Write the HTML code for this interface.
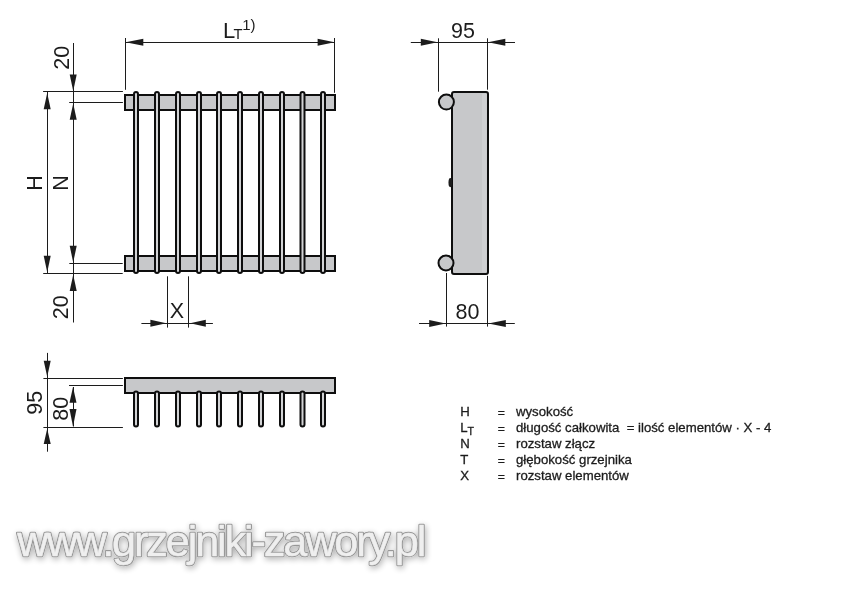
<!DOCTYPE html>
<html><head><meta charset="utf-8"><style>
html,body{margin:0;padding:0;background:#fff;}
body{width:850px;height:600px;overflow:hidden;position:relative;}
svg{position:absolute;left:0;top:0;will-change:transform;}
</style></head><body>
<svg width="850" height="600" viewBox="0 0 850 600">
<defs><filter id="sh" x="-10%" y="-30%" width="120%" height="160%"><feGaussianBlur in="SourceAlpha" stdDeviation="3"/><feOffset dx="0.5" dy="1.5"/><feComponentTransfer><feFuncA type="linear" slope="0.32"/></feComponentTransfer><feMerge><feMergeNode/><feMergeNode in="SourceGraphic"/></feMerge></filter></defs>
<rect width="850" height="600" fill="#fff"/>
<rect x="125" y="95" width="210" height="15" fill="#c7c8ca" stroke="#0e0e0e" stroke-width="2"/>
<rect x="125" y="256" width="210" height="15" fill="#c7c8ca" stroke="#0e0e0e" stroke-width="2"/>
<rect x="134" y="92" width="4" height="181" rx="2" fill="#d2d3d5" stroke="#0e0e0e" stroke-width="2"/>
<rect x="155" y="92" width="4" height="181" rx="2" fill="#d2d3d5" stroke="#0e0e0e" stroke-width="2"/>
<rect x="176" y="92" width="4" height="181" rx="2" fill="#d2d3d5" stroke="#0e0e0e" stroke-width="2"/>
<rect x="197" y="92" width="4" height="181" rx="2" fill="#d2d3d5" stroke="#0e0e0e" stroke-width="2"/>
<rect x="217" y="92" width="4" height="181" rx="2" fill="#d2d3d5" stroke="#0e0e0e" stroke-width="2"/>
<rect x="238" y="92" width="4" height="181" rx="2" fill="#d2d3d5" stroke="#0e0e0e" stroke-width="2"/>
<rect x="259" y="92" width="4" height="181" rx="2" fill="#d2d3d5" stroke="#0e0e0e" stroke-width="2"/>
<rect x="280" y="92" width="4" height="181" rx="2" fill="#d2d3d5" stroke="#0e0e0e" stroke-width="2"/>
<rect x="300.5" y="92" width="4" height="181" rx="2" fill="#d2d3d5" stroke="#0e0e0e" stroke-width="2"/>
<rect x="321" y="92" width="4" height="181" rx="2" fill="#d2d3d5" stroke="#0e0e0e" stroke-width="2"/>
<line x1="125.5" y1="38" x2="125.5" y2="89.8" stroke="#1c1c1c" stroke-width="1.0"/>
<line x1="334.5" y1="38" x2="334.5" y2="92.8" stroke="#1c1c1c" stroke-width="1.0"/>
<line x1="125.4" y1="42.5" x2="334.8" y2="42.5" stroke="#1c1c1c" stroke-width="1.0"/>
<polygon points="125.6,42.3 143.30,45.80 143.30,38.80" fill="#1c1c1c"/>
<polygon points="334.6,42.3 317.60,38.80 317.60,45.80" fill="#1c1c1c"/>
<line x1="43.1" y1="91.5" x2="122.9" y2="91.5" stroke="#1c1c1c" stroke-width="1.0"/>
<line x1="69.2" y1="102.5" x2="122.9" y2="102.5" stroke="#1c1c1c" stroke-width="1.0"/>
<line x1="69.3" y1="263.5" x2="122.7" y2="263.5" stroke="#1c1c1c" stroke-width="1.0"/>
<line x1="43.2" y1="273.5" x2="122.7" y2="273.5" stroke="#1c1c1c" stroke-width="1.0"/>
<line x1="47.5" y1="92" x2="47.5" y2="273" stroke="#1c1c1c" stroke-width="1.0"/>
<polygon points="47.2,92.9 43.70,109.20 50.70,109.20" fill="#1c1c1c"/>
<polygon points="47.2,272.3 50.70,255.80 43.70,255.80" fill="#1c1c1c"/>
<line x1="73.5" y1="43" x2="73.5" y2="322.5" stroke="#1c1c1c" stroke-width="1.0"/>
<polygon points="73.2,91 76.70,74.40 69.70,74.40" fill="#1c1c1c"/>
<polygon points="73.2,103.4 69.70,119.70 76.70,119.70" fill="#1c1c1c"/>
<polygon points="73.2,262.5 76.70,245.70 69.70,245.70" fill="#1c1c1c"/>
<polygon points="73.2,274.8 69.70,291.00 76.70,291.00" fill="#1c1c1c"/>
<line x1="167.5" y1="276.3" x2="167.5" y2="327.6" stroke="#1c1c1c" stroke-width="1.0"/>
<line x1="188.5" y1="276.3" x2="188.5" y2="327.6" stroke="#1c1c1c" stroke-width="1.0"/>
<line x1="141.4" y1="323.5" x2="212.9" y2="323.5" stroke="#1c1c1c" stroke-width="1.0"/>
<polygon points="166.3,323.3 150.40,319.80 150.40,326.80" fill="#1c1c1c"/>
<polygon points="190.1,323.3 205.80,326.80 205.80,319.80" fill="#1c1c1c"/>
<rect x="452" y="92" width="36" height="182" rx="2" fill="#c7c8ca" stroke="#0e0e0e" stroke-width="2"/>
<rect x="482" y="94" width="4.5" height="178" fill="#cfd0d2"/>
<circle cx="446.4" cy="102.1" r="7.5" fill="#c7c8ca" stroke="#0e0e0e" stroke-width="2"/>
<circle cx="446" cy="263" r="7.5" fill="#c7c8ca" stroke="#0e0e0e" stroke-width="2"/>
<ellipse cx="450.3" cy="182.6" rx="1.8" ry="4.6" fill="#1c1c1c"/>
<line x1="438.5" y1="38.3" x2="438.5" y2="91.7" stroke="#1c1c1c" stroke-width="1.0"/>
<line x1="487.5" y1="38.3" x2="487.5" y2="89.7" stroke="#1c1c1c" stroke-width="1.0"/>
<line x1="410.8" y1="42.5" x2="515" y2="42.5" stroke="#1c1c1c" stroke-width="1.0"/>
<polygon points="437.5,42.2 420.80,38.70 420.80,45.70" fill="#1c1c1c"/>
<polygon points="488,42.2 505.30,45.70 505.30,38.70" fill="#1c1c1c"/>
<line x1="446.5" y1="273" x2="446.5" y2="326.6" stroke="#1c1c1c" stroke-width="1.0"/>
<line x1="487.5" y1="275.8" x2="487.5" y2="326.6" stroke="#1c1c1c" stroke-width="1.0"/>
<line x1="419" y1="323.5" x2="514.8" y2="323.5" stroke="#1c1c1c" stroke-width="1.0"/>
<polygon points="445.6,323.4 429.20,319.90 429.20,326.90" fill="#1c1c1c"/>
<polygon points="488.3,323.4 505.80,326.90 505.80,319.90" fill="#1c1c1c"/>
<rect x="125" y="378" width="210" height="15" fill="#c7c8ca" stroke="#0e0e0e" stroke-width="2"/>
<rect x="134" y="391.5" width="4" height="35" rx="2" fill="#d2d3d5" stroke="#0e0e0e" stroke-width="2"/>
<rect x="155" y="391.5" width="4" height="35" rx="2" fill="#d2d3d5" stroke="#0e0e0e" stroke-width="2"/>
<rect x="176" y="391.5" width="4" height="35" rx="2" fill="#d2d3d5" stroke="#0e0e0e" stroke-width="2"/>
<rect x="197" y="391.5" width="4" height="35" rx="2" fill="#d2d3d5" stroke="#0e0e0e" stroke-width="2"/>
<rect x="217" y="391.5" width="4" height="35" rx="2" fill="#d2d3d5" stroke="#0e0e0e" stroke-width="2"/>
<rect x="238" y="391.5" width="4" height="35" rx="2" fill="#d2d3d5" stroke="#0e0e0e" stroke-width="2"/>
<rect x="259" y="391.5" width="4" height="35" rx="2" fill="#d2d3d5" stroke="#0e0e0e" stroke-width="2"/>
<rect x="280" y="391.5" width="4" height="35" rx="2" fill="#d2d3d5" stroke="#0e0e0e" stroke-width="2"/>
<rect x="300.5" y="391.5" width="4" height="35" rx="2" fill="#d2d3d5" stroke="#0e0e0e" stroke-width="2"/>
<rect x="321" y="391.5" width="4" height="35" rx="2" fill="#d2d3d5" stroke="#0e0e0e" stroke-width="2"/>
<line x1="47.5" y1="352.9" x2="47.5" y2="451.7" stroke="#1c1c1c" stroke-width="1.0"/>
<polygon points="47.2,376.7 50.70,360.80 43.70,360.80" fill="#1c1c1c"/>
<polygon points="47.2,428.8 43.70,443.90 50.70,443.90" fill="#1c1c1c"/>
<line x1="43.4" y1="378.5" x2="122.9" y2="378.5" stroke="#1c1c1c" stroke-width="1.0"/>
<line x1="69" y1="385.5" x2="122.9" y2="385.5" stroke="#1c1c1c" stroke-width="1.0"/>
<line x1="43.4" y1="427.5" x2="122.9" y2="427.5" stroke="#1c1c1c" stroke-width="1.0"/>
<line x1="73.5" y1="387" x2="73.5" y2="426.5" stroke="#1c1c1c" stroke-width="1.0"/>
<polygon points="73.0,387 69.50,402.80 76.50,402.80" fill="#1c1c1c"/>
<polygon points="73.0,426.5 76.50,409.10 69.50,409.10" fill="#1c1c1c"/>
<text x="223" y="37.8" font-size="22" font-family="Liberation Sans, sans-serif" fill="#1c1c1c" >L</text>
<text x="233.5" y="38.7" font-size="14.8" font-family="Liberation Sans, sans-serif" fill="#1c1c1c" >T</text>
<text x="242.2" y="29.8" font-size="15" font-family="Liberation Sans, sans-serif" fill="#1c1c1c" >1)</text>
<text x="451" y="37.5" font-size="21.5" font-family="Liberation Sans, sans-serif" fill="#1c1c1c" >95</text>
<text x="455.5" y="318.8" font-size="21.5" font-family="Liberation Sans, sans-serif" fill="#1c1c1c" >80</text>
<text x="169.8" y="318.2" font-size="21.5" font-family="Liberation Sans, sans-serif" fill="#1c1c1c" >X</text>
<text x="0" y="0" font-size="21.5" font-family="Liberation Sans, sans-serif" fill="#1c1c1c" text-anchor="middle" transform="translate(42.2,183) rotate(-90)">H</text>
<text x="0" y="0" font-size="21.5" font-family="Liberation Sans, sans-serif" fill="#1c1c1c" text-anchor="middle" transform="translate(68.2,183) rotate(-90)">N</text>
<text x="0" y="0" font-size="21.5" font-family="Liberation Sans, sans-serif" fill="#1c1c1c" text-anchor="middle" transform="translate(68.6,57.7) rotate(-90)">20</text>
<text x="0" y="0" font-size="21.5" font-family="Liberation Sans, sans-serif" fill="#1c1c1c" text-anchor="middle" transform="translate(68.4,307.3) rotate(-90)">20</text>
<text x="0" y="0" font-size="21.5" font-family="Liberation Sans, sans-serif" fill="#1c1c1c" text-anchor="middle" transform="translate(42.3,402.8) rotate(-90)">95</text>
<text x="0" y="0" font-size="21.5" font-family="Liberation Sans, sans-serif" fill="#1c1c1c" text-anchor="middle" transform="translate(68.4,408.7) rotate(-90)">80</text>
<text x="460.3" y="415.75" font-size="13.2" font-family="Liberation Sans, sans-serif" fill="#1c1c1c" xml:space="preserve" stroke="#1c1c1c" stroke-width="0.3">H</text>
<text x="497.6" y="416.75" font-size="13.2" font-family="Liberation Sans, sans-serif" fill="#1c1c1c" >=</text>
<text x="516.0" y="415.75" font-size="13.2" font-family="Liberation Sans, sans-serif" fill="#1c1c1c" xml:space="preserve" stroke="#1c1c1c" stroke-width="0.3">wysokość</text>
<text x="460.3" y="431.8" font-size="13.2" font-family="Liberation Sans, sans-serif" fill="#1c1c1c" xml:space="preserve" stroke="#1c1c1c" stroke-width="0.3">L</text>
<text x="497.6" y="432.8" font-size="13.2" font-family="Liberation Sans, sans-serif" fill="#1c1c1c" >=</text>
<text x="516.0" y="431.8" font-size="13.2" font-family="Liberation Sans, sans-serif" fill="#1c1c1c" xml:space="preserve" stroke="#1c1c1c" stroke-width="0.3">długość całkowita  = ilość elementów · X - 4</text>
<text x="460.3" y="447.8" font-size="13.2" font-family="Liberation Sans, sans-serif" fill="#1c1c1c" xml:space="preserve" stroke="#1c1c1c" stroke-width="0.3">N</text>
<text x="497.6" y="448.8" font-size="13.2" font-family="Liberation Sans, sans-serif" fill="#1c1c1c" >=</text>
<text x="516.0" y="447.8" font-size="13.2" font-family="Liberation Sans, sans-serif" fill="#1c1c1c" xml:space="preserve" stroke="#1c1c1c" stroke-width="0.3">rozstaw złącz</text>
<text x="460.3" y="463.9" font-size="13.2" font-family="Liberation Sans, sans-serif" fill="#1c1c1c" xml:space="preserve" stroke="#1c1c1c" stroke-width="0.3">T</text>
<text x="497.6" y="464.9" font-size="13.2" font-family="Liberation Sans, sans-serif" fill="#1c1c1c" >=</text>
<text x="516.0" y="463.9" font-size="13.2" font-family="Liberation Sans, sans-serif" fill="#1c1c1c" xml:space="preserve" stroke="#1c1c1c" stroke-width="0.3">głębokość grzejnika</text>
<text x="460.3" y="480.1" font-size="13.2" font-family="Liberation Sans, sans-serif" fill="#1c1c1c" xml:space="preserve" stroke="#1c1c1c" stroke-width="0.3">X</text>
<text x="497.6" y="481.1" font-size="13.2" font-family="Liberation Sans, sans-serif" fill="#1c1c1c" >=</text>
<text x="516.0" y="480.1" font-size="13.2" font-family="Liberation Sans, sans-serif" fill="#1c1c1c" xml:space="preserve" stroke="#1c1c1c" stroke-width="0.3">rozstaw elementów</text>
<text x="467.6" y="435" font-size="10.6" font-family="Liberation Sans, sans-serif" fill="#1c1c1c" stroke="#1c1c1c" stroke-width="0.3">T</text>
<g filter="url(#sh)"><text x="17.3" y="555.8" font-size="43.2" letter-spacing="-2.1" font-family="Liberation Sans, sans-serif" fill="#eeeeee" stroke="#979797" stroke-width="2.6" stroke-linejoin="round">www.grzejniki-zawory.pl</text>
<text x="17.3" y="555.8" font-size="43.2" letter-spacing="-2.1" font-family="Liberation Sans, sans-serif" fill="#efefef" stroke="#efefef" stroke-width="0.5" stroke-linejoin="round">www.grzejniki-zawory.pl</text></g>
</svg>
</body></html>
